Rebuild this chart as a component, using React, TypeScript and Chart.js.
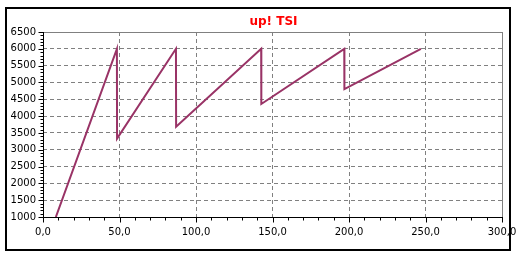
import React, { useEffect, useRef } from "react";
import { Chart, registerables } from "chart.js";

Chart.register(...registerables);

const TITLE = "up! TSI";
const xValues = [8.4, 48.3, 48.4, 86.9, 87.0, 142.6, 142.7, 196.9, 197.0, 247.0];
const yValues = [1000, 6000, 3330, 6000, 3680, 6000, 4360, 6000, 4800, 6000];
const X_MIN = 0, X_MAX = 300, X_STEP = 50, X_MINOR = 10;
const Y_MIN = 1000, Y_MAX = 6500, Y_STEP = 500, Y_MINOR = 100;

const framePlugin = {
  id: "frame",
  beforeDatasetsDraw(chart: any) {
    const { ctx, chartArea: a, scales } = chart;
    const xs = scales.x, ys = scales.y;
    ctx.save();
    ctx.lineWidth = 1;
    ctx.strokeStyle = "#808080";
    ctx.beginPath();
    ctx.moveTo(a.left, Math.round(a.top) + 0.5);
    ctx.lineTo(a.right, Math.round(a.top) + 0.5);
    ctx.moveTo(Math.round(a.right) + 0.5, a.top);
    ctx.lineTo(Math.round(a.right) + 0.5, a.bottom);
    ctx.stroke();
    ctx.strokeStyle = "#000";
    ctx.beginPath();
    const L = Math.round(a.left) + 0.5;
    const B = Math.round(a.bottom) + 0.5;
    ctx.moveTo(L, a.top);
    ctx.lineTo(L, B);
    ctx.lineTo(a.right + 1, B);
    for (let v = Y_MIN; v <= Y_MAX; v += Y_MINOR) {
      const y = Math.round(ys.getPixelForValue(v)) + 0.5;
      const major = (v - Y_MIN) % Y_STEP === 0;
      ctx.moveTo(L - (major ? 5 : 3), y);
      ctx.lineTo(L, y);
    }
    for (let v = X_MIN; v <= X_MAX; v += X_MINOR) {
      const x = Math.round(xs.getPixelForValue(v)) + 0.5;
      const major = (v - X_MIN) % X_STEP === 0;
      ctx.moveTo(x, B);
      ctx.lineTo(x, B + (major ? 5 : 3));
    }
    ctx.stroke();
    ctx.restore();
  },
  afterDraw(chart: any) {
    const { ctx, chartArea: a } = chart;
    ctx.save();
    ctx.strokeStyle = "#000";
    ctx.lineWidth = 2;
    ctx.strokeRect(6, 8, 504, 242);
    ctx.fillStyle = "#ff0000";
    ctx.font = "bold 12px 'DejaVu Sans'";
    ctx.textAlign = "center";
    ctx.textBaseline = "middle";
    ctx.fillText(TITLE, (a.left + a.right) / 2 + 1, 22);
    ctx.restore();
  },
};

export default function App() {
  const ref = useRef<HTMLCanvasElement>(null);
  useEffect(() => {
    document.body.style.margin = "0";
    const chart = new Chart(ref.current!, {
      type: "line",
      data: {
        datasets: [
          {
            data: xValues.map((x, i) => ({ x, y: yValues[i] })),
            borderColor: "#993366",
            borderWidth: 2,
            pointRadius: 0,
            tension: 0,
            fill: false,
          },
        ],
      },
      options: {
        animation: false,
        responsive: false,
        maintainAspectRatio: false,
        layout: { padding: { left: 0, right: 15, top: 32, bottom: 0 } },
        plugins: { legend: { display: false }, title: { display: false }, tooltip: { enabled: false } },
        scales: {
          x: {
            type: "linear",
            min: X_MIN,
            max: X_MAX,
            afterFit(s: any) { s.height = 37; s.paddingLeft = 0; s.paddingRight = 0; },
            ticks: {
              stepSize: X_STEP,
              padding: 9,
              color: "#000",
              font: { family: "'DejaVu Sans'", size: 10 },
              maxRotation: 0,
              callback: (v: any) => Number(v).toFixed(1).replace(".", ","),
            },
            grid: { color: "#808080", drawTicks: false, lineWidth: 1 },
            border: { display: false, dash: [4, 3] },
          },
          y: {
            type: "linear",
            min: Y_MIN,
            max: Y_MAX,
            afterFit(s: any) { s.width = 43; s.paddingTop = 0; s.paddingBottom = 0; },
            ticks: {
              stepSize: Y_STEP,
              padding: 7,
              color: "#000",
              font: { family: "'DejaVu Sans'", size: 10 },
              callback: (v: any) => String(v),
            },
            grid: { color: "#808080", drawTicks: false, lineWidth: 1 },
            border: { display: false, dash: [4, 3] },
          },
        },
      },
      plugins: [framePlugin],
    } as any);
    return () => chart.destroy();
  }, []);
  return (
    <div style={{ position: "absolute", left: 0, top: 0, width: 517, height: 254 }}>
      <canvas ref={ref} width={517} height={254} style={{ width: 517, height: 254 }} />
    </div>
  );
}
